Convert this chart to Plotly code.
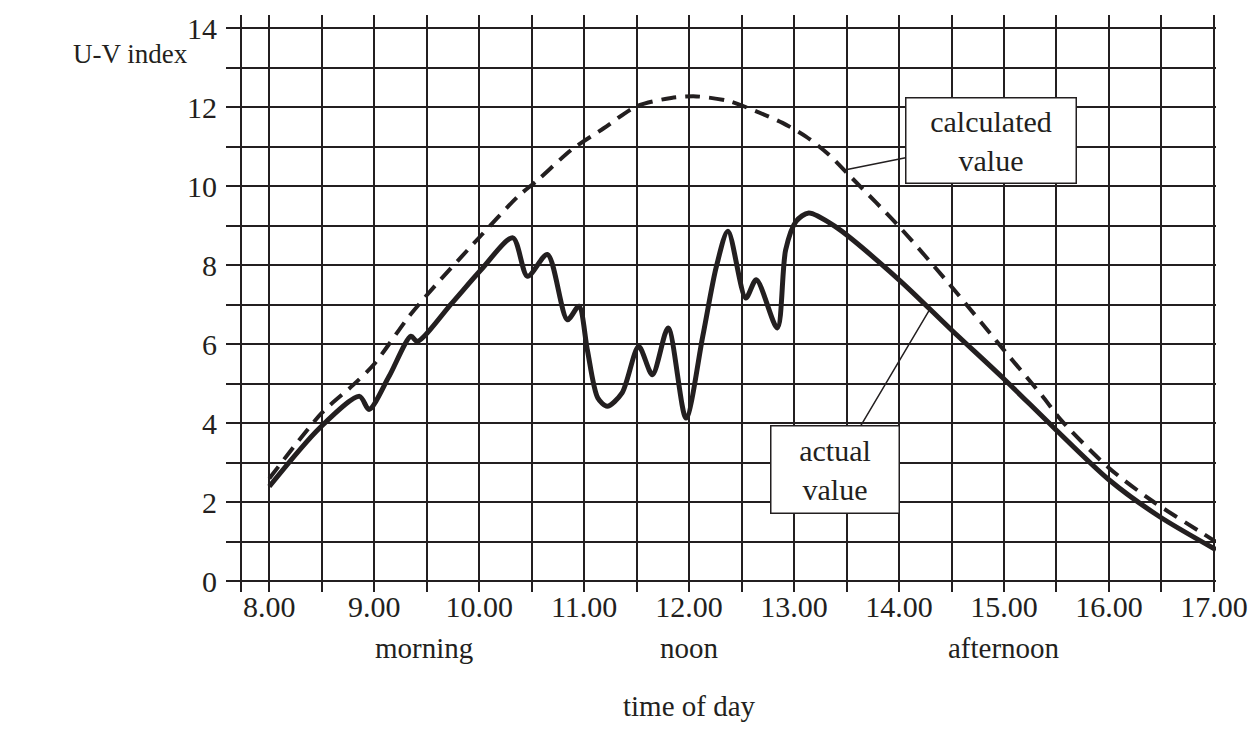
import plotly.graph_objects as go

# ---- data ----
calc_time = [8.0, 8.5, 8.8, 9.0, 9.33, 9.57, 10.0, 10.37, 10.56, 10.88, 11.19, 11.5, 11.83,
             12.07, 12.38, 12.64, 12.89, 13.11, 13.33, 13.52, 14.0, 14.47, 15.0, 15.38,
             15.54, 16.0, 16.42, 16.89, 17.02]
calc_uv = [2.6, 4.26, 4.97, 5.5, 6.7, 7.45, 8.7, 9.74, 10.16, 10.92, 11.47, 12.02, 12.23,
           12.27, 12.15, 11.89, 11.6, 11.26, 10.8, 10.29, 8.98, 7.55, 5.85, 4.64,
           4.09, 2.87, 2.02, 1.22, 1.0]

actual_time = [8.0, 8.48, 8.86, 8.95, 9.14, 9.35, 9.41, 9.74, 10.02, 10.32, 10.46, 10.65,
               10.84, 10.95, 11.03, 11.13, 11.22, 11.36, 11.52, 11.65, 11.80, 11.97, 12.13,
               12.26, 12.37, 12.54, 12.64, 12.84, 12.92, 13.02, 13.14, 13.39, 14.0, 14.5,
               15.0, 15.47, 16.0, 16.48, 17.02]
actual_uv = [2.4, 3.88, 4.68, 4.35, 5.18, 6.2, 6.07, 7.04, 7.89, 8.69, 7.72, 8.27,
             6.62, 6.96, 5.86, 4.64, 4.43, 4.76, 5.94, 5.23, 6.41, 4.13, 6.2,
             7.97, 8.86, 7.17, 7.63, 6.41, 8.39, 9.11, 9.32, 8.98, 7.63, 6.36,
             5.12, 3.9, 2.57, 1.64, 0.8]

x_tick_labels = ["8.00", "9.00", "10.00", "11.00", "12.00", "13.00", "14.00",
                 "15.00", "16.00", "17.00"]
y_tick_labels = ["0", "2", "4", "6", "8", "10", "12", "14"]
period_labels = ["morning", "noon", "afternoon"]
period_times = [9.47, 12.0, 15.0]

INK = "#231f20"
FONT = "Liberation Serif, Times New Roman, serif"

# grid every half hour / every 1 unit, labels only on whole hours / even values
x_vals, x_text = [], []
for i, lab in enumerate(x_tick_labels):
    h = float(lab)
    x_vals.append(h)
    x_text.append(lab)
    if i < len(x_tick_labels) - 1:
        x_vals.append(h + 0.5)
        x_text.append("")
y_vals, y_text = [], []
for i, lab in enumerate(y_tick_labels):
    v = int(lab)
    y_vals.append(v)
    y_text.append(lab)
    if i < len(y_tick_labels) - 1:
        y_vals.append(v + 1)
        y_text.append("")

fig = go.Figure()
fig.add_trace(go.Scatter(x=calc_time, y=calc_uv, mode="lines",
                         line=dict(color=INK, width=4, dash="15px,9px",
                                   shape="spline", smoothing=0.8),
                         name="calculated value", hoverinfo="skip"))
fig.add_trace(go.Scatter(x=actual_time, y=actual_uv, mode="lines",
                         line=dict(color=INK, width=5, shape="spline", smoothing=0.8),
                         name="actual value", hoverinfo="skip"))

fig.update_layout(
    width=1260, height=750,
    margin=dict(l=242, r=37, t=15, b=158),
    paper_bgcolor="white", plot_bgcolor="white",
    showlegend=False,
    font=dict(family=FONT, size=30, color=INK),
    xaxis=dict(range=[7.74, 17.02], tickmode="array", tickvals=x_vals, ticktext=x_text,
               showgrid=True, gridcolor=INK, gridwidth=2, zeroline=False,
               showline=False, ticks="", ticklabelstandoff=-6,
               tickfont=dict(family=FONT, size=30, color=INK)),
    yaxis=dict(range=[-0.27, 14.33], tickmode="array", tickvals=y_vals, ticktext=y_text,
               showgrid=True, gridcolor=INK, gridwidth=2, zeroline=False,
               showline=True, linecolor=INK, linewidth=2,
               ticks="outside", ticklen=14, tickwidth=2, tickcolor=INK,
               ticklabelstandoff=3,
               tickfont=dict(family=FONT, size=30, color=INK)),
)

annotations = [
    dict(text="U-V index", xref="paper", yref="paper", x=(130 - 242) / 981, y=(592 - 54) / 577,
         xanchor="center", yanchor="middle", showarrow=False,
         font=dict(family=FONT, size=27, color=INK)),
    dict(text="time of day", xref="x", yref="paper", x=12.0, y=(592 - 706) / 577,
         xanchor="center", yanchor="middle", showarrow=False,
         font=dict(family=FONT, size=29, color=INK)),
    # labelled boxes with leader lines
    dict(text="calculated<br>value", xref="x", yref="y", x=13.505, y=10.42,
         axref="x", ayref="y", ax=14.875, ay=11.15,
         showarrow=True, arrowhead=0, arrowwidth=1.5, arrowcolor=INK, standoff=0,
         width=167, height=82, bgcolor="white", bordercolor=INK, borderwidth=1.5,
         borderpad=1, font=dict(family=FONT, size=30, color=INK)),
    dict(text="actual<br>value", xref="x", yref="y", x=14.29, y=6.87,
         axref="x", ayref="y", ax=13.39, ay=2.84,
         showarrow=True, arrowhead=0, arrowwidth=1.5, arrowcolor=INK, standoff=0,
         width=125, height=84, bgcolor="white", bordercolor=INK, borderwidth=1.5,
         borderpad=1, font=dict(family=FONT, size=30, color=INK)),
]
for lab, t in zip(period_labels, period_times):
    annotations.append(dict(text=lab, xref="x", yref="paper", x=t, y=(592 - 648) / 577,
                            xanchor="center", yanchor="middle", showarrow=False,
                            font=dict(family=FONT, size=29, color=INK)))
fig.update_layout(annotations=annotations)

# remove the default page margin so the figure sits at the window's top-left corner
fig.write_html("out.html", config={"displayModeBar": False},
               post_script="document.body.style.margin='0';")
